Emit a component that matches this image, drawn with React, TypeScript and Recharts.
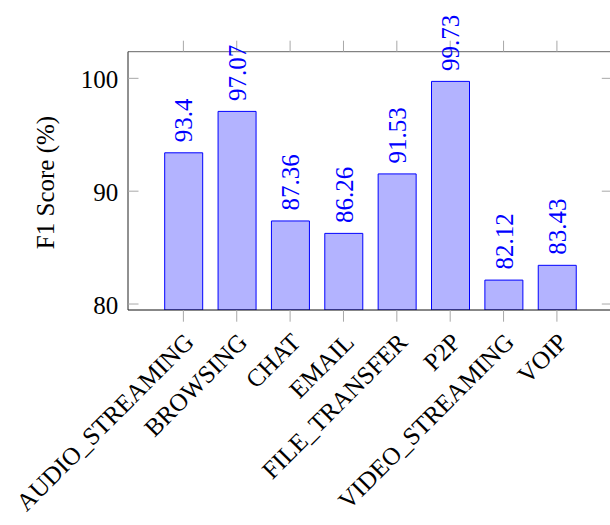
import { Bar, BarChart, LabelList, ReferenceLine, XAxis, YAxis } from "recharts";

const categories = [
  "AUDIO_STREAMING",
  "BROWSING",
  "CHAT",
  "EMAIL",
  "FILE_TRANSFER",
  "P2P",
  "VIDEO_STREAMING",
  "VOIP",
];
const f1Scores = [93.4, 97.07, 87.36, 86.26, 91.53, 99.73, 82.12, 83.43];
const yTicks = [80, 90, 100];
const yLabel = "F1 Score (%)";

const Y_MIN = 79.47;
const Y_MAX = 102.36;

// layout of the plot box (px)
const W = 620;
const H = 525;
const LEFT = 128;
const TOP = 51.7;
const RIGHT = 612.3;
const BOTTOM = 310;
const Y_AXIS_W = 60;
const X_AXIS_H = 40;

const FONT = "Liberation Serif, DejaVu Serif, serif";
const FS = 25;
const TICK_GRAY = "#a8a8a8";
const BLUE = "#0000ff";

const txt = { fontFamily: FONT, fontSize: FS };

const data = categories.map((name, i) => ({ name, f1: f1Scores[i] }));

function XTick(props: any) {
  const { x, payload } = props;
  const ax = x + 5.8;
  const ay = 337.5;
  return (
    <g>
      <line x1={x} x2={x} y1={BOTTOM} y2={BOTTOM + 11.7} stroke={TICK_GRAY} />
      <line x1={x} x2={x} y1={TOP - 11} y2={TOP} stroke={TICK_GRAY} />
      <text
        x={ax}
        y={ay}
        dy="0.35em"
        transform={`rotate(-45 ${ax} ${ay})`}
        textAnchor="end"
        style={txt}
        fill="#000"
      >
        {payload.value}
      </text>
    </g>
  );
}

function YTick(props: any) {
  const { y, payload } = props;
  return (
    <g>
      <line x1={LEFT} x2={LEFT + 10.5} y1={y} y2={y} stroke={TICK_GRAY} />
      <line x1={RIGHT - 10.5} x2={RIGHT} y1={y} y2={y} stroke={TICK_GRAY} />
      <text
        x={LEFT - 9.7}
        y={y}
        dy="0.38em"
        textAnchor="end"
        style={txt}
        fill="#000"
      >
        {payload.value}
      </text>
    </g>
  );
}

function ValueLabel(props: any) {
  const { x, y, width, value } = props;
  const cx = x + width / 2;
  const sy = y - 10.5;
  return (
    <text
      x={cx}
      y={sy}
      dy="0.35em"
      transform={`rotate(-90 ${cx} ${sy})`}
      textAnchor="start"
      style={txt}
      fill={BLUE}
    >
      {String(value)}
    </text>
  );
}

export default function App() {
  return (
    <div
      style={{
        position: "absolute",
        left: 0,
        top: 0,
        width: 610,
        height: 525,
        overflow: "hidden",
        background: "#fff",
        fontFamily: FONT,
      }}
    >
      <BarChart
        width={W}
        height={H}
        data={data}
        style={{ fontFamily: FONT }}
        margin={{
          top: TOP,
          right: W - RIGHT,
          bottom: H - BOTTOM - X_AXIS_H,
          left: LEFT - Y_AXIS_W,
        }}
      >
        <XAxis
          dataKey="name"
          height={X_AXIS_H}
          interval={0}
          padding={{ left: 28.7, right: 28.7 }}
          tickLine={false}
          axisLine={{ stroke: "#111" }}
          tick={<XTick />}
        />
        <YAxis
          width={Y_AXIS_W}
          type="number"
          domain={[Y_MIN, Y_MAX]}
          allowDataOverflow
          ticks={yTicks}
          tickLine={false}
          axisLine={{ stroke: "#222" }}
          tick={<YTick />}
          label={{
            content: () => (
              <text
                x={53.5}
                y={182.5}
                transform="rotate(-90 53.5 182.5)"
                textAnchor="middle"
                style={txt}
                fill="#000"
              >
                {yLabel}
              </text>
            ),
          }}
        />
        <ReferenceLine y={Y_MAX} stroke="#666" />
        <Bar
          dataKey="f1"
          barSize={38}
          fill="#b3b3ff"
          stroke={BLUE}
          strokeWidth={1}
          isAnimationActive={false}
        >
          <LabelList dataKey="f1" content={<ValueLabel />} />
        </Bar>
      </BarChart>
    </div>
  );
}
